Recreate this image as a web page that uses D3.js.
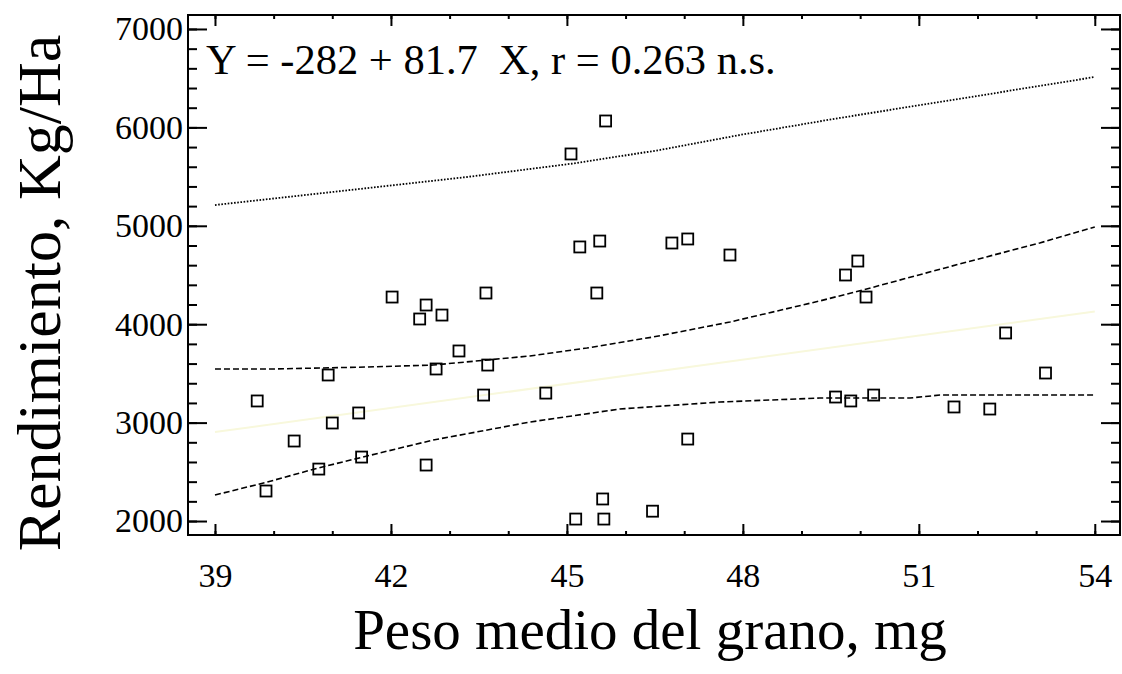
<!DOCTYPE html>
<html>
<head>
<meta charset="utf-8">
<script src="https://cdn.jsdelivr.net/npm/d3@7"></script>
<style>
  html, body { margin: 0; padding: 0; background: #fff; }
  svg text { font-family: "Liberation Serif", "DejaVu Serif", serif; fill: #000; }
</style>
</head>
<body>
<svg id="chart" width="1122" height="674"></svg>
<script>
// grain weight (mg) and yield (kg/ha) per plot
var pesoGrano = [39.72, 39.87, 40.35, 40.77, 40.93, 41.0, 41.45, 41.5, 42.02, 42.49,
	42.6, 42.6, 42.77, 42.87, 43.16, 43.58, 43.62, 43.65, 44.64, 45.07,
	45.15, 45.22, 45.51, 45.56, 45.61, 45.63, 45.66, 46.46, 46.79, 47.06,
	47.06, 47.78, 49.58, 49.75, 49.84, 49.96, 50.1, 50.23, 51.6, 52.21,
	52.48, 53.16];
var rendimiento = [3220, 2305, 2813, 2528, 3484, 2996, 3098, 2650, 4276, 4053,
	4195, 2569, 3545, 4093, 3728, 3280, 4317, 3585, 3300, 5730,
	2020, 4785, 4317, 4845, 2224, 2020, 6065, 2100, 4825, 4866,
	2833, 4703, 3260, 4500, 3220, 4642, 4276, 3280, 3159, 3138,
	3911, 3504];

// fitted line end points
var ajusteX = [39, 54];
var ajusteY = [2904, 4130];

// confidence band (dashed)
var confSupX = [39, 39.99, 41.59, 42.72, 44.37, 45.34, 46.47, 47.78, 49.31, 50.11, 51.82, 53.06, 54];
var confSupY = [3545, 3545, 3565, 3585, 3677, 3758, 3870, 4022, 4236, 4358, 4632, 4825, 4988];
var confInfX = [39, 39.89, 40.76, 41.52, 42.72, 44.37, 45.9, 47.61, 49.31, 50.85, 51.36, 54];
var confInfY = [2264, 2396, 2539, 2650, 2823, 3006, 3138, 3209, 3250, 3250, 3280, 3280];

// prediction band, upper (dotted)
var predSupX = [39, 41.01, 43.3, 45.17, 46.58, 47.95, 49.65, 51.36, 54];
var predSupY = [5211, 5344, 5496, 5638, 5770, 5923, 6096, 6258, 6512];

var xTicks = [39, 42, 45, 48, 51, 54];
var yTicks = [2000, 3000, 4000, 5000, 6000, 7000];

var ecuacion = 'Y = -282 + 81.7  X, r = 0.263 n.s.';
var tituloX = 'Peso medio del grano, mg';
var tituloY = 'Rendimiento, Kg/Ha';

(function() {
	var svg = d3.select('#chart'),
		pLeft = 188, pRight = 1120, pTop = 15, pBottom = 535;

	var x = d3.scaleLinear().domain([38.54, 54.43]).range([pLeft, pRight]);
	var y = d3.scaleLinear().domain([1858, 7142]).range([pBottom, pTop]);

	var xMinor = d3.range(39, 55, 1);
	var yMinor = d3.range(2000, 7001, 200);

	function drawAxis(axis, tx, ty) {
		var g = svg.append('g')
			.attr('transform', 'translate(' + tx + ',' + ty + ')')
			.call(axis);
		g.select('.domain').remove();
		g.attr('font-size', 34).attr('font-family', null);
		g.selectAll('line').attr('stroke', '#000').attr('stroke-width', 2);
		return g;
	}

	// minor ticks
	drawAxis(d3.axisBottom(x).tickValues(xMinor).tickSize(-4).tickFormat(''), 0, pBottom);
	drawAxis(d3.axisTop(x).tickValues(xMinor).tickSize(-4).tickFormat(''), 0, pTop);
	drawAxis(d3.axisLeft(y).tickValues(yMinor).tickSize(-9).tickFormat(''), pLeft, 0);
	drawAxis(d3.axisRight(y).tickValues(yMinor).tickSize(-9).tickFormat(''), pRight, 0);

	// major ticks with labels
	drawAxis(d3.axisBottom(x).tickValues(xTicks).tickSize(-11).tickPadding(28).tickFormat(d3.format('d')), 0, pBottom);
	drawAxis(d3.axisTop(x).tickValues(xTicks).tickSize(-11).tickFormat(''), 0, pTop);
	drawAxis(d3.axisLeft(y).tickValues(yTicks).tickSize(-19).tickPadding(5).tickFormat(d3.format('d')), pLeft, 0);
	drawAxis(d3.axisRight(y).tickValues(yTicks).tickSize(-19).tickFormat(''), pRight, 0);

	// frame
	svg.append('rect')
		.attr('x', pLeft).attr('y', pTop)
		.attr('width', pRight - pLeft).attr('height', pBottom - pTop)
		.attr('fill', 'none').attr('stroke', '#000').attr('stroke-width', 2);

	var line = d3.line()
		.x(function(d) { return x(d[0]); })
		.y(function(d) { return y(d[1]); });

	function drawCurve(xs, ys, dash, color, width) {
		svg.append('path')
			.datum(d3.zip(xs, ys))
			.attr('d', line)
			.attr('fill', 'none')
			.attr('stroke', color)
			.attr('stroke-width', width)
			.attr('stroke-dasharray', dash);
	}

	drawCurve(ajusteX, ajusteY, null, '#f8f8dc', 2);
	drawCurve(confSupX, confSupY, '6,3', '#000', 1.6);
	drawCurve(confInfX, confInfY, '6,3', '#000', 1.6);
	drawCurve(predSupX, predSupY, '1.6,1.6', '#000', 1.8);

	// points
	svg.append('g').selectAll('rect')
		.data(d3.zip(pesoGrano, rendimiento))
		.enter()
		.append('rect')
		.attr('x', function(d) { return x(d[0]) - 5.5; })
		.attr('y', function(d) { return y(d[1]) - 5.5; })
		.attr('width', 11)
		.attr('height', 11)
		.attr('fill', 'none')
		.attr('stroke', '#000')
		.attr('stroke-width', 1.8);

	// texts
	svg.append('text')
		.attr('x', 206).attr('y', 74)
		.attr('font-size', 42.5)
		.style('white-space', 'pre')
		.text(ecuacion);

	svg.append('text')
		.attr('x', (pLeft + pRight) / 2 - 4).attr('y', 649)
		.attr('text-anchor', 'middle')
		.attr('font-size', 57)
		.text(tituloX);

	svg.append('text')
		.attr('transform', 'translate(60,293) rotate(-90)')
		.attr('text-anchor', 'middle')
		.attr('font-size', 62)
		.text(tituloY);
})();
</script>
</body>
</html>
